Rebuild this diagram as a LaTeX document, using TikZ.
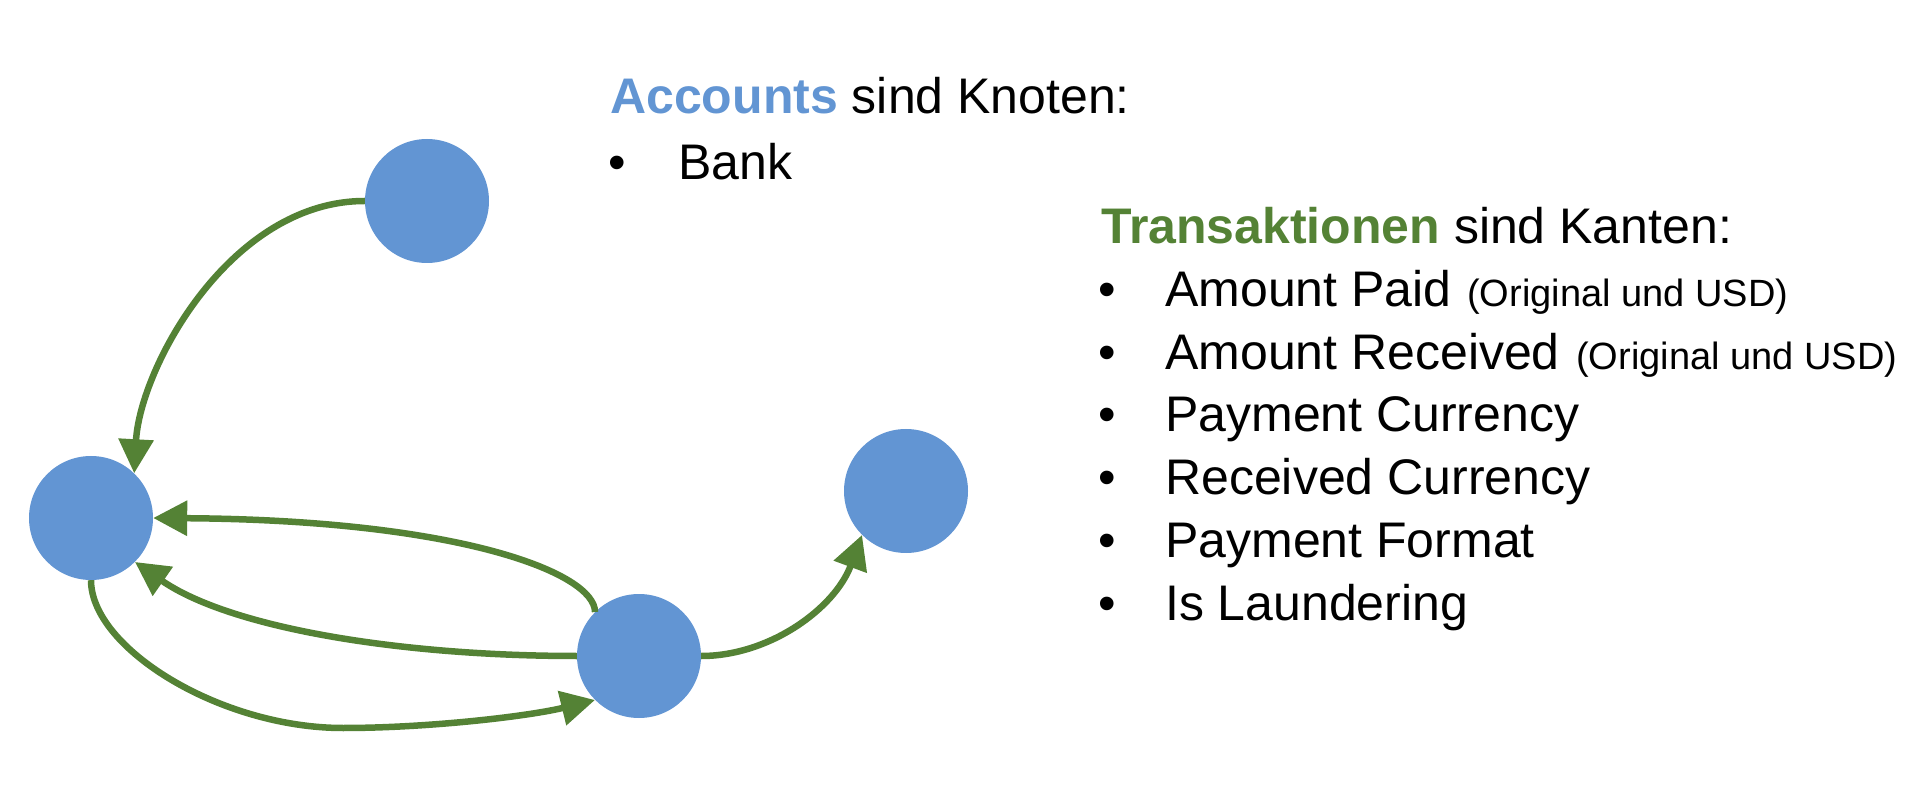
\documentclass[tikz,border=0pt]{standalone}
\usepackage{fontspec}
\setmainfont{Liberation Sans}
\usetikzlibrary{arrows.meta}
\definecolor{nodeblue}{RGB}{98,149,211}
\definecolor{edgegreen}{RGB}{84,130,53}
\begin{document}
\begin{tikzpicture}[x=1pt,y=1pt,
  acct/.style={circle,fill=nodeblue,minimum size=124pt,inner sep=0pt},
  txn/.style={color=edgegreen,line width=6.5pt,-{Triangle[length=34pt,width=34pt]}},
  txt/.style={anchor=base west,inner sep=0pt,font=\fontsize{50}{60}\selectfont},
  small/.style={anchor=base west,inner sep=0pt,font=\fontsize{38}{46}\selectfont}]
\useasboundingbox (0,0) rectangle (1912,788);
% account nodes
\node[acct] (top) at (427,587) {};
\node[acct] (left) at (91,270) {};
\node[acct] (mid) at (639,132) {};
\node[acct] (right) at (906,297) {};
\coordinate (bot) at (343,60);
% transactions
\draw[txn] (top.west) .. controls (230,587) and (140,420) .. (left.46);
\draw[txn] (mid.135) .. controls (595,215) and (460,268) .. (left.east);
\draw[txn] (mid.west) .. controls (400,132) and (230,160) .. (left.-45);
\draw[txn] (left.south) .. controls (91,140) and (220,60) .. (bot) .. controls (430,60) and (530,72) .. (mid.225);
\draw[txn] (mid.east) .. controls (770,132) and (835,180) .. (right.225);
% texts
\node[txt] (accttitle) at (610,674) {\textbf{\textcolor{nodeblue}{Accounts}} sind Knoten:};
\node[txt] (b0) at (608,608) {•};
\node[txt] (bank) at (678,608) {Bank};
\node[txt] (txntitle) at (1101,544) {\textbf{\textcolor{edgegreen}{Transaktionen}} sind Kanten:};
\node[txt] (b1) at (1098,481.3) {•};
\node[txt] (l1) at (1165,481.3) {Amount Paid};
\node[small] (s1) at (1467,481.3) {(Original und USD)};
\node[txt] (b2) at (1098,418.7) {•};
\node[txt] (l2) at (1165,418.7) {Amount Received};
\node[small] (s2) at (1576,418.7) {(Original und USD)};
\node[txt] (b3) at (1098,356) {•};
\node[txt] (l3) at (1165,356) {Payment Currency};
\node[txt] (b4) at (1098,293.3) {•};
\node[txt] (l4) at (1165,293.3) {Received Currency};
\node[txt] (b5) at (1098,230.7) {•};
\node[txt] (l5) at (1165,230.7) {Payment Format};
\node[txt] (b6) at (1098,168) {•};
\node[txt] (l6) at (1165,168) {Is Laundering};
\end{tikzpicture}
\end{document}
